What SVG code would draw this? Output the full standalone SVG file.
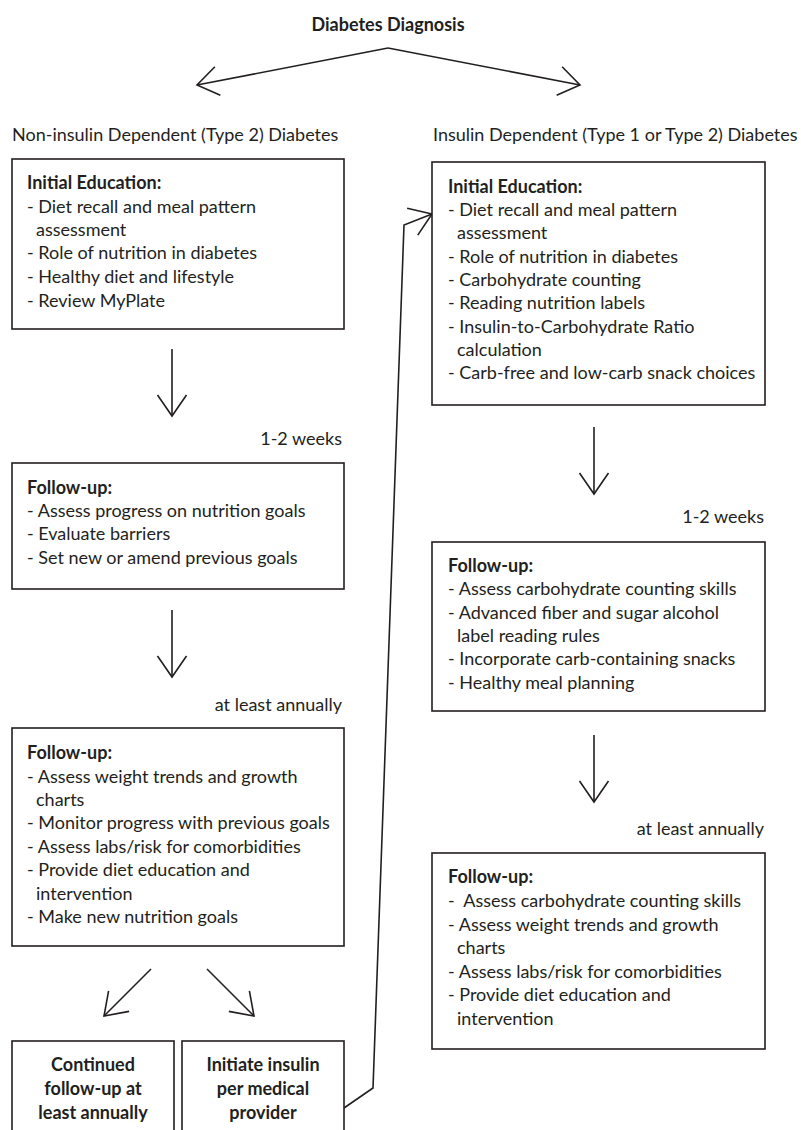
<svg xmlns="http://www.w3.org/2000/svg" width="801" height="1130" viewBox="0 0 801 1130">
<style>
text{font-family:Lato,"Liberation Sans",sans-serif;font-size:18px;fill:#231f20}
.b{font-weight:bold}
.c{text-anchor:middle}
.e{text-anchor:end}
.box{fill:#fff;stroke:#231f20;stroke-width:1.6}
.ln{fill:none;stroke:#231f20;stroke-width:1.6;marker-end:url(#ah)}
</style>
<defs>
<marker id="ah" markerUnits="userSpaceOnUse" markerWidth="30" markerHeight="34" viewBox="-24 -17 30 34" refX="0" refY="0" orient="auto">
<path d="M-21,-14.5 L0,0 L-21,14.5" fill="none" stroke="#231f20" stroke-width="1.6"/>
</marker>
</defs>
<rect width="801" height="1130" fill="#fff"/>
<g id="title"><text class="b c" x="388" y="31">Diabetes Diagnosis</text></g>
<g id="heading-left"><text x="12" y="141">Non-insulin Dependent (Type 2) Diabetes</text></g>
<g id="heading-right"><text x="433" y="141">Insulin Dependent (Type 1 or Type 2) Diabetes</text></g>

<g id="connectors">
<path class="ln" d="M388,48 L197,85"/>
<path class="ln" d="M388,48 L580,85"/>
<path class="ln" d="M172,349 L172,416"/>
<path class="ln" d="M172,610 L172,677"/>
<path class="ln" d="M151,969 L104,1016"/>
<path class="ln" d="M207,969 L254,1016"/>
<path class="ln" d="M594,427 L594,494"/>
<path class="ln" d="M594,735 L594,802"/>
<path class="ln" d="M344,1108 L373,1088 L404,225 L432,214"/>
</g>

<g id="label-l1"><text class="e" x="342" y="445">1-2 weeks</text></g>
<g id="label-l2"><text class="e" x="342" y="711">at least annually</text></g>
<g id="label-r1"><text class="e" x="764" y="523">1-2 weeks</text></g>
<g id="label-r2"><text class="e" x="764" y="835">at least annually</text></g>

<g id="left-initial">
<rect class="box" x="12" y="159" width="332" height="170"/>
<text class="b" x="27" y="189">Initial Education:</text>
<text x="27" y="213">- Diet recall and meal pattern</text>
<text x="36" y="236">assessment</text>
<text x="27" y="259">- Role of nutrition in diabetes</text>
<text x="27" y="283">- Healthy diet and lifestyle</text>
<text x="27" y="307">- Review MyPlate</text>
</g>

<g id="left-followup1">
<rect class="box" x="12" y="463" width="332" height="126"/>
<text class="b" x="27" y="494">Follow-up:</text>
<text x="27" y="517">- Assess progress on nutrition goals</text>
<text x="27" y="540">- Evaluate barriers</text>
<text x="27" y="564">- Set new or amend previous goals</text>
</g>

<g id="left-followup2">
<rect class="box" x="12" y="728" width="332" height="218"/>
<text class="b" x="27" y="759">Follow-up:</text>
<text x="27" y="783">- Assess weight trends and growth</text>
<text x="36" y="806">charts</text>
<text x="27" y="829">- Monitor progress with previous goals</text>
<text x="27" y="853">- Assess labs/risk for comorbidities</text>
<text x="27" y="876">- Provide diet education and</text>
<text x="36" y="900">intervention</text>
<text x="27" y="923">- Make new nutrition goals</text>
</g>

<g id="continued">
<rect class="box" x="12" y="1041" width="162" height="100"/>
<text class="b c" x="93" y="1071">Continued</text>
<text class="b c" x="93" y="1095">follow-up at</text>
<text class="b c" x="93" y="1119">least annually</text>
</g>

<g id="initiate-insulin">
<rect class="box" x="182" y="1041" width="162" height="100"/>
<text class="b c" x="263" y="1071">Initiate insulin</text>
<text class="b c" x="263" y="1095">per medical</text>
<text class="b c" x="263" y="1119">provider</text>
</g>

<g id="right-initial">
<rect class="box" x="432" y="162" width="333" height="243"/>
<text class="b" x="448" y="193">Initial Education:</text>
<text x="448" y="216">- Diet recall and meal pattern</text>
<text x="457" y="239">assessment</text>
<text x="448" y="263">- Role of nutrition in diabetes</text>
<text x="448" y="286">- Carbohydrate counting</text>
<text x="448" y="309">- Reading nutrition labels</text>
<text x="448" y="333">- Insulin-to-Carbohydrate Ratio</text>
<text x="457" y="356">calculation</text>
<text x="448" y="379">- Carb-free and low-carb snack choices</text>
</g>

<g id="right-followup1">
<rect class="box" x="432" y="542" width="333" height="169"/>
<text class="b" x="448" y="572">Follow-up:</text>
<text x="448" y="595">- Assess carbohydrate counting skills</text>
<text x="448" y="619">- Advanced fiber and sugar alcohol</text>
<text x="457" y="642">label reading rules</text>
<text x="448" y="665">- Incorporate carb-containing snacks</text>
<text x="448" y="689">- Healthy meal planning</text>
</g>

<g id="right-followup2">
<rect class="box" x="432" y="853" width="333" height="196"/>
<text class="b" x="448" y="883">Follow-up:</text>
<text x="448" y="907" xml:space="preserve">-  Assess carbohydrate counting skills</text>
<text x="448" y="931">- Assess weight trends and growth</text>
<text x="457" y="954">charts</text>
<text x="448" y="978">- Assess labs/risk for comorbidities</text>
<text x="448" y="1001">- Provide diet education and</text>
<text x="457" y="1025">intervention</text>
</g>
</svg>
